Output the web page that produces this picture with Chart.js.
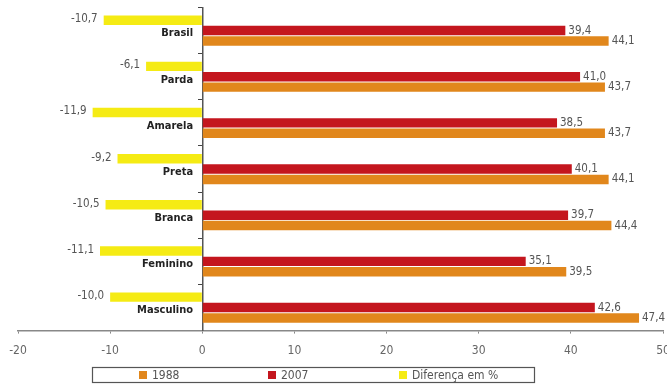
<!DOCTYPE html>
<html>
<head>
<meta charset="utf-8">
<script src="https://cdn.jsdelivr.net/npm/chart.js@4/dist/chart.umd.min.js"></script>
<style>
  html, body { margin: 0; padding: 0; background: #fff; }
  #wrap { width: 667px; height: 385px; position: relative; }
</style>
</head>
<body>
<div id="wrap"><canvas id="c"></canvas></div>
<script>
var categories = ["Brasil", "Parda", "Amarela", "Preta", "Branca", "Feminino", "Masculino"];
var v1988 = [44.1, 43.7, 43.7, 44.1, 44.4, 39.5, 47.4];
var v2007 = [39.4, 41.0, 38.5, 40.1, 39.7, 35.1, 42.6];
var diferenca = [-10.7, -6.1, -11.9, -9.2, -10.5, -11.1, -10.0];
var seriesNames = ["1988", "2007", "Diferença em %"];
var xMin = -20, xMax = 50, xStep = 10;

var FONT = "'DejaVu Sans Condensed', 'DejaVu Sans', sans-serif";
var colors = { y1988: "#E1871C", y2007: "#C4161E", dif: "#F5EB14" };

function fmt(v) { return v.toFixed(1).replace(".", ","); }

// keep the scales from reserving room for half-labels at the ends
function zeroPad(s) { s.paddingLeft = 0; s.paddingRight = 0; s.paddingTop = 0; s.paddingBottom = 0; }

var valueLabels = {
    id: "valueLabels",
    afterDatasetsDraw: function(chart) {
        var ctx = chart.ctx;
        ctx.save();
        ctx.font = "11.5px " + FONT;
        ctx.fillStyle = "#555";
        ctx.textBaseline = "middle";
        chart.data.datasets.forEach(function(ds, i) {
            var meta = chart.getDatasetMeta(i);
            meta.data.forEach(function(el, j) {
                var v = ds.data[j];
                if (v < 0) {
                    ctx.textAlign = "right";
                    ctx.fillText(fmt(v), el.x - 6, el.y - 1);
                } else {
                    ctx.textAlign = "left";
                    ctx.fillText(fmt(v), el.x + 3, el.y);
                }
            });
        });
        ctx.restore();
    }
};

var boxLegend = {
    id: "boxLegend",
    afterDraw: function(chart) {
        var ctx = chart.ctx;
        ctx.save();
        ctx.strokeStyle = "#555";
        ctx.lineWidth = 1.2;
        ctx.strokeRect(92.5, 367.5, 442, 15);
        var order = [2, 1, 0];
        var xs = [139, 268, 399];
        ctx.font = "12px " + FONT;
        ctx.textBaseline = "middle";
        ctx.textAlign = "left";
        order.forEach(function(di, k) {
            var ds = chart.data.datasets[di];
            ctx.fillStyle = ds.backgroundColor;
            ctx.fillRect(xs[k], 371, 8, 8);
            ctx.fillStyle = "#555";
            ctx.fillText(ds.label, xs[k] + 13, 375.5);
        });
        ctx.restore();
    }
};

new Chart(document.getElementById("c"), {
    type: "bar",
    data: {
        labels: categories,
        datasets: [
            { label: seriesNames[2], data: diferenca, backgroundColor: colors.dif },
            { label: seriesNames[1], data: v2007, backgroundColor: colors.y2007 },
            { label: seriesNames[0], data: v1988, backgroundColor: colors.y1988 }
        ]
    },
    options: {
        indexAxis: "y",
        responsive: true,
        maintainAspectRatio: false,
        animation: false,
        categoryPercentage: 0.675,
        barPercentage: 0.91,
        layout: { padding: { left: 18, right: 4, top: 7.5, bottom: 17 } },
        plugins: { legend: { display: false }, tooltip: { enabled: false } },
        scales: {
            x: {
                type: "linear",
                min: xMin, max: xMax,
                afterFit: zeroPad,
                grid: { drawOnChartArea: false, tickLength: 3, color: "#888" },
                border: { color: "#888", width: 1.5 },
                ticks: { stepSize: xStep, color: "#666", padding: 10, font: { size: 12, family: FONT } }
            },
            y: {
                position: { x: 0 },
                afterFit: zeroPad,
                grid: { drawOnChartArea: false, tickLength: 4, color: "#444", offset: true },
                border: { color: "#555", width: 1.5 },
                ticks: { display: false }
            },
            yl: {
                type: "category",
                axis: "y",
                position: { x: -1 },
                offset: true,
                afterFit: zeroPad,
                grid: { display: false },
                border: { display: false },
                ticks: { color: "#222", labelOffset: 3, font: { size: 11, weight: "bold", family: FONT } }
            }
        }
    },
    plugins: [valueLabels, boxLegend]
});
</script>
</body>
</html>
